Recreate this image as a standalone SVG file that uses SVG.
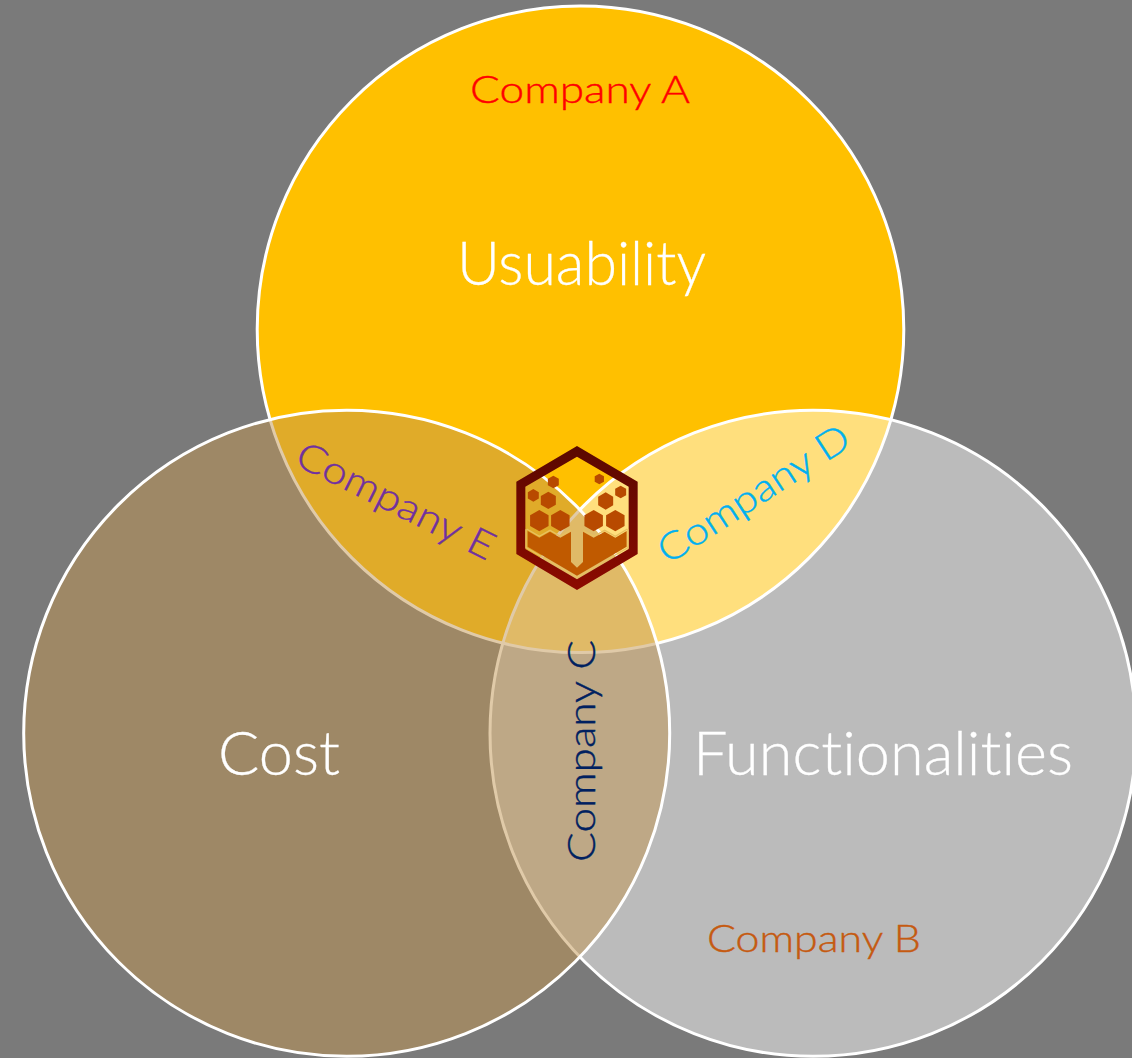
<svg xmlns="http://www.w3.org/2000/svg" width="1132" height="1058" viewBox="0 0 1132 1058">
<style>
.c{stroke:#fff;stroke-width:3}
text{font-family:"Lato","Open Sans","Liberation Sans",sans-serif;font-weight:300;font-variant-ligatures:none}
.big{font-size:62px;fill:#fff;stroke:#fff;stroke-width:.3}
.co{font-size:38px;fill:currentColor;stroke:currentColor;stroke-width:.4}
.hx{fill:#B84A00}
.g{fill:none;stroke:#E8C060;stroke-width:4}
</style>
<defs>
<linearGradient id="fr" x1="0" y1="0" x2="0" y2="1"><stop offset="0" stop-color="#5A0800"/><stop offset="1" stop-color="#8C0A00"/></linearGradient>
<path id="h" d="M0-1 .866-.5V.5L0 1-.866.5V-.5Z"/>
</defs>
<rect width="1132" height="1058" fill="#7A7A7A"/>
<g id="usability"><circle class="c" cx="580.5" cy="329.3" r="323.3" fill="#FFC000"/>
<text class="big" x="457" y="285" textLength="249" lengthAdjust="spacingAndGlyphs">Usuability</text>
<text class="co" x="470" y="103" textLength="220" lengthAdjust="spacingAndGlyphs" color="#FF0000">Company A</text></g>
<g id="functionalities"><circle class="c" cx="813" cy="733.3" r="323" fill="#fff" fill-opacity=".49"/>
<text class="big" x="693" y="775" textLength="380" lengthAdjust="spacingAndGlyphs">Functionalities</text>
<text class="co" x="707" y="952" textLength="214" lengthAdjust="spacingAndGlyphs" color="#C55A11">Company B</text>
<text class="co" transform="translate(668 565) rotate(-33)" textLength="221" lengthAdjust="spacingAndGlyphs" color="#00B0F0">Company D</text></g>
<g id="cost"><circle class="c" cx="346.7" cy="733.3" r="323" fill="#C29652" fill-opacity=".5"/>
<text class="big" x="218" y="775" textLength="122" lengthAdjust="spacingAndGlyphs">Cost</text>
<text class="co" transform="translate(293 464) rotate(26.5)" textLength="217" lengthAdjust="spacingAndGlyphs" color="#7030A0">Company E</text>
<text class="co" transform="translate(595 862) rotate(-90)" textLength="222" lengthAdjust="spacingAndGlyphs" color="#002060">Company C</text></g>
<g id="logo" transform="translate(490 430) scale(.33333)">
<path fill="url(#fr)" fill-rule="evenodd" d="M261 48 443 155V372L261 480 79 372V155ZM261 80 106 170V357L261 448 416 357V170Z"/>
<path class="g" d="M108 298V353L261 442 414 353V298"/>
<path class="g" d="M110 297 148 319 180 301 211 319 243 301M279 301 311 319 344 301 376 319 412 297"/>
<path fill="#C05A00" fill-rule="evenodd" d="M113 303 148 323 180 305 211 323 243 305V396L261 413 279 396V305L311 323 344 305 376 323 410 303V350L261 437 113 350Z"/>
<use href="#h" class="hx" transform="translate(148 272) scale(32)"/>
<use href="#h" class="hx" transform="translate(211 272) scale(32)"/>
<use href="#h" class="hx" transform="translate(311 272) scale(32)"/>
<use href="#h" class="hx" transform="translate(376 272) scale(32)"/>
<use href="#h" class="hx" transform="translate(175 211) scale(26)"/>
<use href="#h" class="hx" transform="translate(347 213) scale(26)"/>
<use href="#h" class="hx" transform="translate(130 196) scale(19)"/>
<use href="#h" class="hx" transform="translate(392 186) scale(19)"/>
<use href="#h" class="hx" transform="translate(190 156) scale(19)"/>
<use href="#h" class="hx" transform="translate(328 147) scale(16)"/>
</g>
<g id="connectors"/>
</svg>
